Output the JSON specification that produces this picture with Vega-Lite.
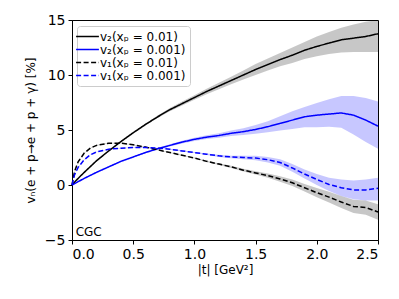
{
  "$schema": "https://vega.github.io/schema/vega-lite/v6.json",
  "width": 306,
  "height": 220,
  "autosize": "none",
  "padding": {"left": 72, "top": 20, "right": 21, "bottom": 59},
  "background": "white",
  "config": {
    "font": "DejaVu Sans",
    "view": {"stroke": "black", "strokeWidth": 1},
    "axis": {"grid": false, "domainColor": "black", "tickColor": "black", "labelColor": "black", "titleColor": "black", "labelFontSize": 14, "titleFontSize": 12, "titleFontWeight": "normal", "tickSize": 4, "labelPadding": 3, "labelFont": "DejaVu Sans", "titleFont": "DejaVu Sans"}
  },
  "resolve": {"scale": {"fill": "independent"}, "legend": {"fill": "independent"}},
  "datasets": {
    "curves": [
      {"t":0,"s":"a","v":0,"lo":0,"hi":0},
      {"t":0.05,"s":"a","v":0.6,"lo":0.58,"hi":0.62},
      {"t":0.1,"s":"a","v":1.15,"lo":1.12,"hi":1.18},
      {"t":0.2,"s":"a","v":2.2,"lo":2.15,"hi":2.25},
      {"t":0.3,"s":"a","v":3.1,"lo":3.05,"hi":3.15},
      {"t":0.4,"s":"a","v":3.95,"lo":3.88,"hi":4.02},
      {"t":0.5,"s":"a","v":4.75,"lo":4.67,"hi":4.83},
      {"t":0.6,"s":"a","v":5.5,"lo":5.4,"hi":5.6},
      {"t":0.7,"s":"a","v":6.2,"lo":6.08,"hi":6.32},
      {"t":0.8,"s":"a","v":6.85,"lo":6.7,"hi":7.0},
      {"t":0.9,"s":"a","v":7.4,"lo":7.22,"hi":7.58},
      {"t":1.0,"s":"a","v":7.95,"lo":7.75,"hi":8.15},
      {"t":1.1,"s":"a","v":8.5,"lo":8.25,"hi":8.75},
      {"t":1.2,"s":"a","v":9.0,"lo":8.7,"hi":9.3},
      {"t":1.3,"s":"a","v":9.5,"lo":9.15,"hi":9.85},
      {"t":1.4,"s":"a","v":10.0,"lo":9.6,"hi":10.4},
      {"t":1.5,"s":"a","v":10.5,"lo":10.0,"hi":11.0},
      {"t":1.6,"s":"a","v":10.95,"lo":10.4,"hi":11.5},
      {"t":1.7,"s":"a","v":11.4,"lo":10.8,"hi":12.0},
      {"t":1.8,"s":"a","v":11.8,"lo":11.1,"hi":12.5},
      {"t":1.9,"s":"a","v":12.25,"lo":11.45,"hi":13.0},
      {"t":2.0,"s":"a","v":12.6,"lo":11.7,"hi":13.5},
      {"t":2.1,"s":"a","v":12.9,"lo":11.9,"hi":13.9},
      {"t":2.2,"s":"a","v":13.2,"lo":12.05,"hi":14.3},
      {"t":2.3,"s":"a","v":13.35,"lo":12.1,"hi":14.6},
      {"t":2.4,"s":"a","v":13.5,"lo":12.1,"hi":14.85},
      {"t":2.5,"s":"a","v":13.75,"lo":12.1,"hi":15.0},

      {"t":0,"s":"b","v":0,"lo":0,"hi":0},
      {"t":0.05,"s":"b","v":0.3,"lo":0.28,"hi":0.32},
      {"t":0.1,"s":"b","v":0.6,"lo":0.57,"hi":0.63},
      {"t":0.2,"s":"b","v":1.15,"lo":1.1,"hi":1.2},
      {"t":0.3,"s":"b","v":1.65,"lo":1.6,"hi":1.7},
      {"t":0.4,"s":"b","v":2.15,"lo":2.1,"hi":2.2},
      {"t":0.5,"s":"b","v":2.55,"lo":2.5,"hi":2.6},
      {"t":0.6,"s":"b","v":2.95,"lo":2.88,"hi":3.02},
      {"t":0.7,"s":"b","v":3.3,"lo":3.22,"hi":3.38},
      {"t":0.8,"s":"b","v":3.6,"lo":3.5,"hi":3.7},
      {"t":0.9,"s":"b","v":3.9,"lo":3.78,"hi":4.02},
      {"t":1.0,"s":"b","v":4.15,"lo":4.0,"hi":4.3},
      {"t":1.1,"s":"b","v":4.35,"lo":4.18,"hi":4.52},
      {"t":1.2,"s":"b","v":4.5,"lo":4.3,"hi":4.7},
      {"t":1.3,"s":"b","v":4.7,"lo":4.45,"hi":4.95},
      {"t":1.4,"s":"b","v":4.85,"lo":4.55,"hi":5.15},
      {"t":1.5,"s":"b","v":5.05,"lo":4.65,"hi":5.45},
      {"t":1.6,"s":"b","v":5.3,"lo":4.8,"hi":5.8},
      {"t":1.7,"s":"b","v":5.6,"lo":4.95,"hi":6.25},
      {"t":1.8,"s":"b","v":5.9,"lo":5.1,"hi":6.7},
      {"t":1.9,"s":"b","v":6.2,"lo":5.25,"hi":7.1},
      {"t":2.0,"s":"b","v":6.35,"lo":5.25,"hi":7.45},
      {"t":2.1,"s":"b","v":6.45,"lo":5.3,"hi":7.8},
      {"t":2.2,"s":"b","v":6.55,"lo":5.2,"hi":8.1},
      {"t":2.3,"s":"b","v":6.35,"lo":4.6,"hi":8.1},
      {"t":2.4,"s":"b","v":5.9,"lo":3.9,"hi":7.9},
      {"t":2.5,"s":"b","v":5.35,"lo":3.3,"hi":7.6},

      {"t":0,"s":"c","v":0,"lo":0,"hi":0},
      {"t":0.02,"s":"c","v":1.2,"lo":1.17,"hi":1.23},
      {"t":0.05,"s":"c","v":2.1,"lo":2.07,"hi":2.13},
      {"t":0.1,"s":"c","v":2.9,"lo":2.87,"hi":2.93},
      {"t":0.15,"s":"c","v":3.35,"lo":3.32,"hi":3.38},
      {"t":0.2,"s":"c","v":3.6,"lo":3.57,"hi":3.63},
      {"t":0.3,"s":"c","v":3.8,"lo":3.77,"hi":3.83},
      {"t":0.4,"s":"c","v":3.8,"lo":3.77,"hi":3.83},
      {"t":0.5,"s":"c","v":3.65,"lo":3.62,"hi":3.68},
      {"t":0.6,"s":"c","v":3.45,"lo":3.42,"hi":3.48},
      {"t":0.7,"s":"c","v":3.2,"lo":3.17,"hi":3.23},
      {"t":0.8,"s":"c","v":2.95,"lo":2.92,"hi":2.98},
      {"t":0.9,"s":"c","v":2.7,"lo":2.66,"hi":2.74},
      {"t":1.0,"s":"c","v":2.45,"lo":2.4,"hi":2.5},
      {"t":1.1,"s":"c","v":2.15,"lo":2.09,"hi":2.21},
      {"t":1.2,"s":"c","v":1.9,"lo":1.82,"hi":1.98},
      {"t":1.3,"s":"c","v":1.65,"lo":1.55,"hi":1.75},
      {"t":1.4,"s":"c","v":1.35,"lo":1.23,"hi":1.47},
      {"t":1.5,"s":"c","v":1.1,"lo":0.95,"hi":1.25},
      {"t":1.6,"s":"c","v":0.85,"lo":0.65,"hi":1.05},
      {"t":1.7,"s":"c","v":0.55,"lo":0.3,"hi":0.8},
      {"t":1.8,"s":"c","v":0.2,"lo":-0.1,"hi":0.5},
      {"t":1.9,"s":"c","v":-0.25,"lo":-0.6,"hi":0.1},
      {"t":2.0,"s":"c","v":-0.7,"lo":-1.12,"hi":-0.28},
      {"t":2.1,"s":"c","v":-1.1,"lo":-1.58,"hi":-0.62},
      {"t":2.2,"s":"c","v":-1.55,"lo":-2.1,"hi":-1.0},
      {"t":2.3,"s":"c","v":-1.95,"lo":-2.55,"hi":-1.35},
      {"t":2.4,"s":"c","v":-2.05,"lo":-2.7,"hi":-1.4},
      {"t":2.5,"s":"c","v":-2.45,"lo":-3.15,"hi":-1.75},

      {"t":0,"s":"d","v":0,"lo":0,"hi":0},
      {"t":0.02,"s":"d","v":0.9,"lo":0.87,"hi":0.93},
      {"t":0.05,"s":"d","v":1.6,"lo":1.57,"hi":1.63},
      {"t":0.1,"s":"d","v":2.3,"lo":2.27,"hi":2.33},
      {"t":0.15,"s":"d","v":2.75,"lo":2.72,"hi":2.78},
      {"t":0.2,"s":"d","v":3.0,"lo":2.97,"hi":3.03},
      {"t":0.3,"s":"d","v":3.25,"lo":3.22,"hi":3.28},
      {"t":0.4,"s":"d","v":3.35,"lo":3.32,"hi":3.38},
      {"t":0.5,"s":"d","v":3.4,"lo":3.37,"hi":3.43},
      {"t":0.6,"s":"d","v":3.4,"lo":3.37,"hi":3.43},
      {"t":0.7,"s":"d","v":3.35,"lo":3.31,"hi":3.39},
      {"t":0.8,"s":"d","v":3.25,"lo":3.21,"hi":3.29},
      {"t":0.9,"s":"d","v":3.1,"lo":3.05,"hi":3.15},
      {"t":1.0,"s":"d","v":2.95,"lo":2.9,"hi":3.0},
      {"t":1.1,"s":"d","v":2.8,"lo":2.73,"hi":2.87},
      {"t":1.2,"s":"d","v":2.65,"lo":2.55,"hi":2.75},
      {"t":1.3,"s":"d","v":2.55,"lo":2.43,"hi":2.67},
      {"t":1.4,"s":"d","v":2.5,"lo":2.35,"hi":2.65},
      {"t":1.5,"s":"d","v":2.45,"lo":2.25,"hi":2.65},
      {"t":1.6,"s":"d","v":2.3,"lo":2.05,"hi":2.55},
      {"t":1.7,"s":"d","v":2.05,"lo":1.75,"hi":2.35},
      {"t":1.8,"s":"d","v":1.55,"lo":1.2,"hi":1.9},
      {"t":1.9,"s":"d","v":1.0,"lo":0.6,"hi":1.4},
      {"t":2.0,"s":"d","v":0.5,"lo":0.0,"hi":1.0},
      {"t":2.1,"s":"d","v":0.05,"lo":-0.55,"hi":0.65},
      {"t":2.2,"s":"d","v":-0.25,"lo":-1.0,"hi":0.5},
      {"t":2.3,"s":"d","v":-0.45,"lo":-1.3,"hi":0.4},
      {"t":2.4,"s":"d","v":-0.45,"lo":-1.4,"hi":0.5},
      {"t":2.5,"s":"d","v":-0.3,"lo":-1.4,"hi":0.65}
    ],
    "notes": [{"t": 0.03, "v": -4.3, "label": "CGC"}]
  },
  "layer": [
    {
      "data": {"name": "curves"},
      "mark": {"type": "area", "opacity": 0.22},
      "encoding": {
        "x": {"field": "t", "type": "quantitative", "scale": {"domain": [0, 2.5], "nice": false, "zero": false},
              "axis": {"values": [0, 0.5, 1, 1.5, 2, 2.5], "format": ".1f", "title": "|t| [GeV²]", "titlePadding": 3}},
        "y": {"field": "lo", "type": "quantitative", "scale": {"domain": [-5, 15], "nice": false},
              "axis": {"values": [-5, 0, 5, 10, 15], "title": "vₙ(e + p→e + p + γ) [%]", "titlePadding": 7}},
        "y2": {"field": "hi"},
        "fill": {"field": "s", "type": "nominal", "scale": {"domain": ["a", "b", "c", "d"], "range": ["black", "blue", "black", "blue"]}, "legend": null},
        "detail": {"field": "s"}
      }
    },
    {
      "data": {"name": "curves"},
      "mark": {"type": "line", "strokeWidth": 1.5},
      "encoding": {
        "x": {"field": "t", "type": "quantitative"},
        "y": {"field": "v", "type": "quantitative"},
        "stroke": {"field": "s", "type": "nominal",
                   "scale": {"domain": ["a", "b", "c", "d"], "range": ["black", "blue", "black", "blue"]},
                   "legend": {"title": null, "orient": "none", "legendX": 5, "legendY": 6, "fillColor": "white", "strokeColor": "#cccccc", "cornerRadius": 3, "padding": 4, "symbolType": "M-2,0H2", "symbolSize": 130, "symbolStrokeWidth": 1.5, "labelFontSize": 12, "labelOffset": 6, "rowPadding": -1, "labelColor": "black",
                              "labelExpr": "datum.value == 'a' ? 'v₂(xₚ = 0.01)' : datum.value == 'b' ? 'v₂(xₚ = 0.001)' : datum.value == 'c' ? 'v₁(xₚ = 0.01)' : 'v₁(xₚ = 0.001)'"}},
        "strokeDash": {"field": "s", "type": "nominal",
                       "scale": {"domain": ["a", "b", "c", "d"], "range": [[1, 0], [1, 0], [5, 2.5], [5, 2.5]]}}
      }
    },
    {
      "data": {"name": "notes"},
      "mark": {"type": "text", "align": "left", "baseline": "middle", "fontSize": 12, "color": "black"},
      "encoding": {
        "x": {"field": "t", "type": "quantitative"},
        "y": {"field": "v", "type": "quantitative"},
        "text": {"field": "label"}
      }
    }
  ]
}
